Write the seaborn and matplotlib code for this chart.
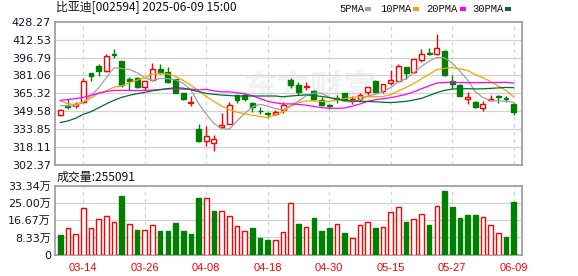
import matplotlib
matplotlib.use('Agg')
import matplotlib.pyplot as plt
import seaborn as sns
import pandas as pd
import numpy as np

# ---------------- data ----------------
dates = ['03-11', '03-12', '03-13', '03-14', '03-17', '03-18', '03-19', '03-20', '03-21', '03-24',
         '03-25', '03-26', '03-27', '03-28', '03-31', '04-01', '04-02', '04-03', '04-07', '04-08',
         '04-09', '04-10', '04-11', '04-14', '04-15', '04-16', '04-17', '04-18', '04-21', '04-22',
         '04-23', '04-24', '04-25', '04-28', '04-29', '04-30', '05-06', '05-07', '05-08', '05-09',
         '05-12', '05-13', '05-14', '05-15', '05-16', '05-19', '05-20', '05-21', '05-22', '05-23',
         '05-26', '05-27', '05-28', '05-29', '05-30', '06-03', '06-04', '06-05', '06-06', '06-09']

opens = [346.6, 354.4, 353.8, 357.8, 382.9, 389.2, 385.1, 400.0, 393.5, 377.7,
         379.1, 370.5, 377.1, 386.6, 383.8, 377.5, 365.6, 356.6, 333.6, 323.3,
         321.5, 335.9, 338.2, 363.6, 364.2, 357.0, 350.1, 348.3, 347.1, 350.3,
         377.1, 372.8, 371.0, 367.6, 359.6, 355.5, 361.0, 365.6, 358.4, 360.7,
         366.5, 376.2, 367.6, 374.3, 376.2, 388.1, 384.3, 395.0, 400.5, 400.2,
         402.2, 376.2, 372.8, 360.7, 357.5, 352.7, 359.6, 363.3, 361.0, 356.4]
highs = [351.5, 360.1, 357.8, 378.6, 383.2, 390.7, 400.2, 403.9, 394.0, 380.0,
         380.0, 376.4, 392.1, 390.9, 388.1, 378.0, 366.0, 362.7, 338.2, 336.5,
         328.7, 347.7, 357.8, 364.0, 365.6, 357.3, 353.5, 348.6, 350.3, 357.5,
         379.1, 375.6, 375.1, 368.0, 361.8, 355.8, 363.6, 366.0, 362.7, 365.6,
         371.0, 377.1, 373.6, 385.8, 391.5, 388.4, 395.5, 404.5, 405.4, 417.5,
         403.0, 381.4, 373.2, 366.9, 358.9, 358.9, 364.2, 363.5, 363.3, 356.7]
lows = [345.5, 352.0, 352.7, 356.6, 376.5, 380.8, 383.7, 396.4, 370.5, 368.7,
        369.9, 368.5, 376.2, 382.6, 374.3, 365.3, 359.8, 354.6, 322.8, 318.9,
        314.6, 335.5, 338.0, 357.0, 358.9, 349.2, 347.5, 344.0, 346.3, 348.3,
        369.9, 364.2, 368.5, 359.8, 354.1, 351.2, 357.0, 359.4, 356.4, 358.9,
        364.0, 366.6, 365.6, 372.8, 375.6, 377.9, 382.9, 392.9, 398.7, 399.3,
        380.8, 369.3, 362.7, 356.1, 352.7, 349.7, 358.4, 357.0, 357.8, 346.4]
closes = [350.9, 353.2, 356.1, 376.2, 380.6, 385.1, 397.8, 399.3, 372.8, 376.5,
          370.5, 376.2, 386.3, 382.9, 375.1, 365.6, 360.5, 357.8, 323.3, 327.6,
          325.3, 337.6, 355.3, 359.8, 360.7, 353.2, 349.7, 346.9, 349.2, 355.5,
          372.8, 366.9, 371.6, 360.7, 355.5, 353.8, 360.5, 359.8, 360.0, 364.2,
          370.8, 366.9, 373.4, 377.1, 389.0, 383.4, 395.3, 400.2, 400.0, 405.4,
          381.4, 373.4, 363.3, 362.2, 353.5, 356.1, 360.0, 361.8, 360.5, 349.2]

ma5 = [354.6, 354.5, 354.0, 357.5, 363.4, 370.2, 379.2, 387.8, 387.1, 386.3,
       383.4, 379.1, 376.5, 378.5, 378.2, 377.2, 374.1, 368.4, 356.5, 347.0,
       338.9, 334.3, 333.8, 341.1, 347.7, 353.3, 355.7, 354.1, 351.9, 350.9,
       354.8, 358.3, 363.2, 365.5, 365.5, 361.7, 360.4, 358.1, 357.8, 359.6,
       363.0, 364.3, 367.0, 370.5, 375.4, 378.0, 383.6, 389.0, 393.6, 396.9,
       396.5, 392.1, 384.7, 377.1, 366.8, 361.7, 359.0, 358.7, 358.4, 357.5]
ma10 = [358.9, 356.1, 355.5, 357.8, 361.3, 365.6, 367.6, 370.8, 371.9, 374.9,
        376.8, 379.2, 382.2, 382.8, 382.3, 380.3, 376.6, 372.5, 367.5, 362.6,
        358.1, 354.2, 351.1, 348.8, 347.4, 346.1, 345.0, 344.0, 346.5, 349.3,
        354.1, 357.0, 358.7, 358.7, 358.2, 358.3, 359.4, 360.7, 361.7, 362.6,
        362.4, 362.4, 362.6, 364.2, 367.5, 370.5, 374.0, 378.0, 382.1, 386.2,
        387.3, 387.9, 386.9, 385.4, 381.9, 379.1, 375.6, 371.7, 367.8, 362.2]
ma20 = [359.2, 359.8, 360.7, 361.8, 363.6, 365.3, 367.0, 367.9, 368.0, 367.9,
        367.8, 367.9, 368.2, 368.7, 369.2, 369.2, 369.0, 369.0, 368.3, 368.8,
        367.5, 366.7, 366.7, 365.8, 364.9, 363.2, 360.8, 358.3, 357.0, 356.0,
        356.1, 355.6, 354.9, 353.8, 352.8, 352.2, 352.2, 352.4, 354.1, 356.0,
        358.3, 359.7, 360.7, 361.5, 362.9, 364.4, 366.7, 369.4, 371.9, 374.4,
        374.9, 375.2, 374.8, 374.8, 374.7, 374.8, 374.8, 374.9, 375.0, 374.2]
ma30 = [339.6, 341.1, 343.4, 346.9, 349.2, 352.6, 356.1, 359.2, 361.8, 363.6,
        365.0, 366.2, 367.6, 368.5, 369.5, 370.2, 369.9, 368.5, 366.8, 365.3,
        364.5, 363.8, 363.4, 363.0, 363.0, 363.0, 363.0, 363.0, 363.0, 362.3,
        363.0, 363.5, 364.0, 363.4, 362.6, 361.6, 360.3, 359.1, 358.6, 358.2,
        358.2, 357.9, 357.5, 357.2, 357.7, 358.3, 359.5, 360.9, 363.4, 366.0,
        367.9, 369.1, 369.4, 369.4, 369.2, 369.3, 369.7, 370.1, 370.5, 370.3]

volumes = [9.5, 12.7, 9.8, 22.4, 12.7, 17.1, 18.5, 15.6, 28.3, 14.8,
           11.9, 11.8, 14.2, 11.4, 11.4, 15.3, 11.4, 10.0, 27.4, 27.4,
           21.1, 20.9, 18.5, 13.7, 11.3, 12.7, 8.1, 7.1, 7.1, 10.8,
           24.8, 14.8, 13.2, 17.7, 11.4, 12.9, 14.7, 10.5, 7.9, 14.2,
           15.6, 12.9, 13.2, 20.5, 22.9, 15.8, 17.1, 19.6, 14.3, 23.3,
           30.8, 22.9, 17.7, 19.2, 19.2, 18.0, 14.2, 10.5, 8.5, 25.51]
vol_up = [0, 1, 1, 1, 1, 1, 1, 1, 0, 1,
          0, 1, 1, 0, 0, 0, 0, 0, 0, 1,
          0, 1, 1, 1, 1, 0, 0, 0, 1, 1,
          1, 0, 1, 0, 0, 0, 1, 0, 1, 1,
          1, 0, 1, 1, 1, 0, 1, 1, 0, 1,
          0, 0, 0, 0, 0, 1, 1, 1, 0, 0]

price_ticks = [302.37, 318.11, 333.85, 349.58, 365.32, 381.06, 396.79, 412.53, 428.27]
vol_ticks = [0, 8.33, 16.67, 25.00, 33.34]
vol_tick_labels = ['0', '8.33万', '16.67万', '25.00万', '33.34万']
date_labels = ['03-14', '03-26', '04-08', '04-18', '04-30', '05-15', '05-27', '06-09']
ma_names = ['5PMA', '10PMA', '20PMA', '30PMA']
title_text = '比亚迪[002594] 2025-06-09 15:00'
vol_title = '成交量:255091'

# ---------------- styling ----------------
sns.set_style('white')
plt.rcParams['font.family'] = ['DejaVu Sans', 'Noto Sans CJK SC']

RED = '#ff0000'
GREEN = '#008000'
MA_COLORS = ['#a0a0a0', '#f5a300', '#ff00ff', '#006e30']
GRID = '#d3d3d3'
SPINE = '#9a9a9a'
TICKC = '#141432'

df = pd.DataFrame({'i': np.arange(len(dates)), 'date': dates, 'open': opens, 'high': highs,
                   'low': lows, 'close': closes, 'ma5': ma5, 'ma10': ma10, 'ma20': ma20,
                   'ma30': ma30, 'vol': volumes, 'vol_up': vol_up})

fig = plt.figure(figsize=(5.78, 2.76), dpi=100)
W, H = 578.0, 276.0
L, R = 55.0, 522.3
ax = fig.add_axes([L / W, (H - 165.0) / H, (R - L) / W, (165.0 - 21.7) / H])
axv = fig.add_axes([L / W, (H - 254.7) / H, (R - L) / W, (254.7 - 185.7) / H])

xmin, xmax = -0.68, 60.12
date_pos = [dates.index(d) for d in date_labels]

for a in (ax, axv):
    a.set_xlim(xmin, xmax)
    for s in a.spines.values():
        s.set_color(SPINE)
        s.set_linewidth(1.2)
    for p in date_pos:
        a.axvline(p, color=GRID, lw=0.9, ls=(0, (3, 3)), zorder=0.5)
    a.set_xlabel('')
    a.set_ylabel('')

# watermark
ax.text(0.545, 0.52, '东方财富', transform=ax.transAxes, ha='center', va='center',
        fontsize=24, fontweight='bold', color='#f1f1f1', family=['Noto Sans CJK SC'], zorder=0.3)

# price grid
ax.set_ylim(price_ticks[0], price_ticks[-1])
for t in price_ticks[1:-1]:
    ax.axhline(t, color=GRID, lw=0.9, zorder=0.5)

# candles
bw = 0.64
for _, r in df.iterrows():
    up = r['close'] >= r['open']
    col = RED if up else GREEN
    ax.vlines(r['i'], r['low'], r['high'], color=col, lw=1.0, zorder=3)
    bottom = min(r['open'], r['close'])
    h = max(abs(r['close'] - r['open']), 0.35)
    ax.bar(r['i'], h, bottom=bottom, width=bw, facecolor='white' if up else GREEN,
           edgecolor=col, linewidth=1.0, zorder=4)

# moving averages through seaborn
for name, col in zip(['ma5', 'ma10', 'ma20', 'ma30'], MA_COLORS):
    sns.lineplot(data=df, x='i', y=name, ax=ax, color=col, linewidth=0.9, zorder=5)
ax.set_xlabel('')
ax.set_ylabel('')
ax.set_xlim(xmin, xmax)
ax.set_ylim(price_ticks[0], price_ticks[-1])

ax.set_yticks(price_ticks)
ax.set_yticklabels([f'{t:.2f}' for t in price_ticks])
ax.set_xticks(date_pos)
ax.tick_params(axis='x', length=0, labelbottom=False)
ax.tick_params(axis='y', length=2.2, width=0.9, color=SPINE, pad=0.8, labelsize=8, labelcolor=TICKC)

# volume
axv.set_ylim(0, vol_ticks[-1])
for t in vol_ticks[1:-1]:
    axv.axhline(t, color=GRID, lw=0.9, zorder=0.5)
for _, r in df.iterrows():
    up = r['vol_up'] == 1
    axv.bar(r['i'], r['vol'], width=0.6, facecolor='white' if up else GREEN,
            edgecolor=RED if up else GREEN, linewidth=1.0, zorder=3)
axv.set_yticks(vol_ticks)
axv.set_yticklabels(vol_tick_labels)
axv.set_xticks(date_pos)
axv.set_xticklabels(date_labels)
axv.tick_params(axis='y', length=2.2, width=0.9, color=SPINE, pad=0.8, labelsize=8, labelcolor=TICKC)
axv.tick_params(axis='x', length=0, pad=6, labelsize=8, labelcolor=RED)
for lab in axv.get_xticklabels():
    lab.set_family(['Liberation Sans'])

# titles
fig.text(56 / W, 1 - 8 / H, title_text, ha='left', va='center', fontsize=8.6,
         family=['Noto Sans CJK SC'], color='#111111')
fig.text(57 / W, 1 - 177 / H, vol_title, ha='left', va='center', fontsize=8.6,
         family=['Noto Sans CJK SC'], color='#111111')

# legend (text + small colour squares)
leg_x = [339, 380, 426, 472]
sq_x = [365, 413, 460, 505]
for name, col, lx, sx in zip(ma_names, MA_COLORS, leg_x, sq_x):
    fig.text(lx / W, 1 - 8.5 / H, name, ha='left', va='center', fontsize=7.6,
             family=['Liberation Mono'], color='#111111')
    fig.patches.append(plt.Rectangle((sx / W, 1 - 10.5 / H), 6 / W, 4 / H, transform=fig.transFigure,
                                     facecolor=col, edgecolor='none', figure=fig))

fig.savefig('out.png', dpi=100)
